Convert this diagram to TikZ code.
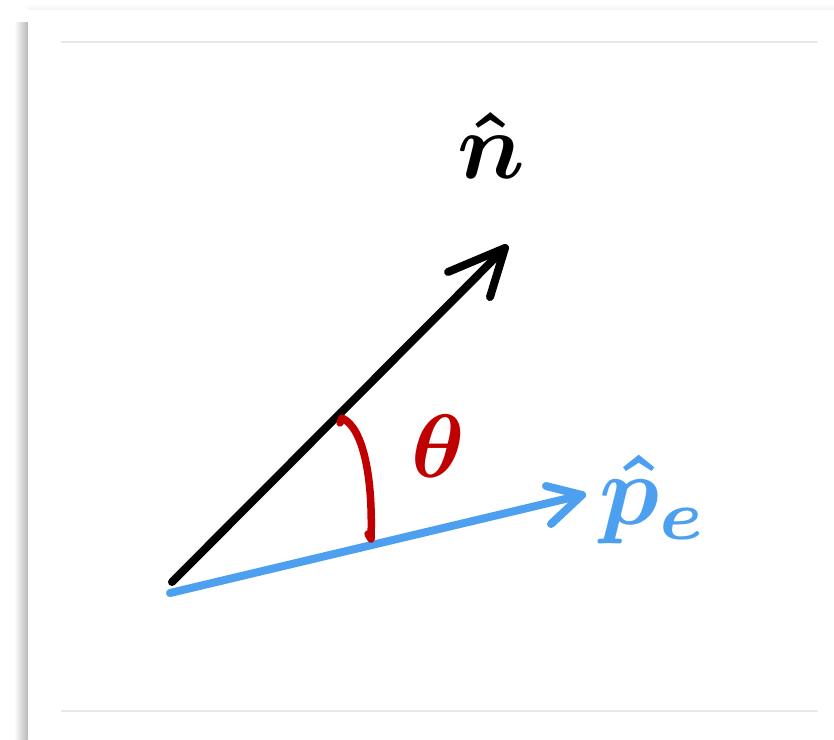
\documentclass[tikz,border=0pt]{standalone}
\definecolor{penblue}{RGB}{77,160,240}
\definecolor{penred}{RGB}{192,0,0}
\definecolor{rulegray}{RGB}{232,232,232}
\tikzset{
  pen/.style={line width=8pt, line cap=round, line join=round},
  redpen/.style={line width=7.5pt, line cap=round, line join=round, draw=penred},
  rule/.style={line width=1.2pt, draw=rulegray},
  lbl/.style={inner sep=0pt, outer sep=0pt, font=\boldmath}
}
\begin{document}
\begin{tikzpicture}[x=1pt,y=-1pt]
\useasboundingbox (0,0) rectangle (834,739);
% panel and its shadow
\fill[white] (0,0) rectangle (834,739);
\shade[left color=white, right color=black!28] (14,22) rectangle (28,739);
\shade[top color=white, bottom color=black!5] (28,3) rectangle (834,10);
\fill[white] (28,10) rectangle (834,739);
\coordinate (r1a) at (61,42);  \coordinate (r1b) at (818,42);
\coordinate (r2a) at (61,711); \coordinate (r2b) at (818,711);
\draw[rule] (r1a) -- (r1b);
\draw[rule] (r2a) -- (r2b);
% vectors
\coordinate (O1) at (172,582);
\coordinate (N) at (505,248);
\coordinate (Nb1) at (448,272);
\coordinate (Nb2) at (490,297);
\coordinate (O2) at (170,593);
\coordinate (P) at (582,495);
\coordinate (Pb1) at (546,486);
\coordinate (Pb2) at (551,524);
\draw[pen, black] (O1) -- (N);
\draw[pen, black] (Nb1) -- (N) -- (Nb2);
\draw[pen, penblue] (O2) -- (P);
\draw[pen, penblue] (Pb1) -- (P) -- (Pb2);
% angle arc
\coordinate (A1) at (340,423);
\coordinate (A2) at (371,539);
\draw[redpen] (A1) -- (342,418) .. controls (364,428) and (373,480) .. (A2) -- (368,534);
% labels
\node[lbl, scale=9.5] (nlab) at (491,146) {$\hat{n}$};
\node[lbl, scale=9, text=penred] (thlab) at (438,446) {$\theta$};
\node[lbl, scale=10, text=penblue] (plab) at (654,499) {$\hat{p}_e$};
\end{tikzpicture}
\end{document}
